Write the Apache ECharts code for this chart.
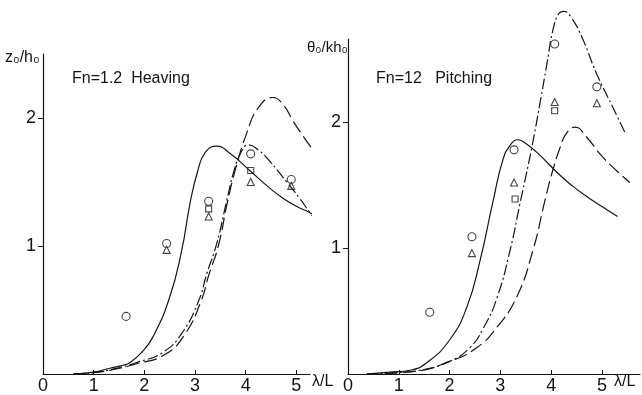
<!DOCTYPE html>
<html><head><meta charset="utf-8">
<script src="https://cdn.jsdelivr.net/npm/echarts@6/dist/echarts.min.js"></script>
<style>html,body{margin:0;padding:0;background:#fff}#c{width:642px;height:395px}</style>
</head><body><div id="c"></div>
<script>
// ---- data ----
const xTicks = [0, 1, 2, 3, 4, 5];
const yTicks = [1, 2];

// Heaving (left panel)
const heaveSolid = [[0.6,0],[1.0,0.015],[1.32,0.045],[1.55,0.065],[1.72,0.09],[1.95,0.17],[2.17,0.29],[2.5,0.6],[2.74,0.97],[2.9,1.33],[3.05,1.58],[3.2,1.73],[3.43,1.78],[3.7,1.72],[4.08,1.59],[4.48,1.45],[4.73,1.375],[5.0,1.31],[5.27,1.26],[5.42,1.22]];
const heaveDashDot = [[0.6,0],[1.0,0.012],[1.4,0.04],[1.85,0.09],[2.37,0.17],[2.76,0.33],[3.08,0.58],[3.23,0.78],[3.43,1.02],[3.63,1.36],[3.78,1.6],[3.92,1.74],[4.05,1.79],[4.25,1.75],[4.48,1.66],[4.81,1.5],[5.07,1.37],[5.27,1.26],[5.42,1.19]];
const heaveDash = [[0.6,0],[1.0,0.01],[1.4,0.035],[1.85,0.08],[2.4,0.15],[2.8,0.31],[3.12,0.57],[3.27,0.77],[3.46,1.0],[3.65,1.36],[3.8,1.6],[4.02,1.88],[4.25,2.08],[4.54,2.16],[4.75,2.1],[4.93,1.98],[5.13,1.86],[5.33,1.75]];
const heaveCircle = [[1.64,0.45],[2.44,1.02],[3.27,1.35],[4.1,1.72],[4.9,1.52]];
const heaveSquare = [[3.27,1.29],[4.1,1.59]];
const heaveTriangle = [[2.44,0.97],[3.27,1.23],[4.1,1.5],[4.9,1.47]];

// Pitching (right panel)
const pitchSolid = [[0.37,0],[0.8,0.015],[1.22,0.03],[1.55,0.09],[2.0,0.27],[2.34,0.53],[2.6,0.9],[2.85,1.36],[3.05,1.7],[3.2,1.82],[3.35,1.86],[3.5,1.83],[3.72,1.76],[4.17,1.58],[4.43,1.49],[4.7,1.41],[5.0,1.33],[5.31,1.25]];
const pitchDashDot = [[0.37,0],[0.9,0.01],[1.42,0.03],[2.0,0.1],[2.4,0.21],[2.66,0.36],[2.93,0.6],[3.19,0.98],[3.39,1.36],[3.62,1.8],[3.78,2.15],[3.92,2.47],[4.04,2.74],[4.15,2.86],[4.25,2.88],[4.38,2.84],[4.6,2.68],[4.9,2.38],[5.2,2.13],[5.45,1.92]];
const pitchDash = [[0.37,0],[1.3,0.02],[2.0,0.1],[2.54,0.21],[2.93,0.37],[3.32,0.61],[3.64,0.98],[3.88,1.38],[4.02,1.6],[4.17,1.79],[4.3,1.91],[4.47,1.96],[4.7,1.88],[5.0,1.73],[5.3,1.61],[5.55,1.52]];
const pitchCircle = [[1.61,0.49],[2.44,1.09],[3.27,1.78],[4.07,2.62],[4.9,2.28]];
const pitchSquare = [[3.29,1.39],[4.07,2.09]];
const pitchTriangle = [[2.44,0.96],[3.27,1.52],[4.07,2.16],[4.9,2.15]];

// ---- chart ----
const ink = '#151515';
const font = 'Liberation Sans';
function xAx(gi, max) {
  return {
    type: 'value', gridIndex: gi, min: 0, max: max, interval: 1,
    axisLine: { lineStyle: { color: ink, width: 1.2 } },
    axisTick: { show: true, inside: true, length: 4, customValues: xTicks, lineStyle: { color: ink } },
    axisLabel: { customValues: xTicks, color: ink, fontSize: 18, fontFamily: font, margin: 3 },
    splitLine: { show: false }
  };
}
function yAx(gi, max) {
  return {
    type: 'value', gridIndex: gi, min: 0, max: max, interval: 1,
    axisLine: { show: true, lineStyle: { color: ink, width: 1.2 } },
    axisTick: { show: true, inside: false, length: 5, customValues: yTicks, lineStyle: { color: ink } },
    axisLabel: { customValues: yTicks, color: ink, fontSize: 18, fontFamily: font, margin: 7 },
    splitLine: { show: false }
  };
}
function line(data, gi, type) {
  return {
    type: 'line', xAxisIndex: gi, yAxisIndex: gi, data: data, smooth: 0.5,
    showSymbol: false, clip: false, silent: true,
    lineStyle: { color: ink, width: 1.2, type: type }
  };
}
function pts(data, gi, sym, size) {
  return {
    type: 'scatter', xAxisIndex: gi, yAxisIndex: gi, data: data, symbol: sym, symbolSize: size,
    clip: false, silent: true,
    itemStyle: { color: '#fff', borderColor: ink, borderWidth: 1.1 }
  };
}
const dashDot = [11, 3, 2, 3];
const longDash = [13, 5];
const chart = echarts.init(document.getElementById('c'), null, { renderer: 'canvas' });
chart.setOption({
  backgroundColor: '#fff',
  animation: false,
  grid: [
    { left: 43, top: 54, width: 267, height: 320 },
    { left: 348, top: 39, width: 292, height: 335 }
  ],
  xAxis: [xAx(0, 5.27), xAx(1, 5.75)],
  yAxis: [yAx(0, 2.5), yAx(1, 2.66)],
  series: [
    line(heaveSolid, 0, 'solid'),
    line(heaveDashDot, 0, dashDot),
    line(heaveDash, 0, longDash),
    pts(heaveCircle, 0, 'circle', 8),
    pts(heaveSquare, 0, 'rect', 6),
    pts(heaveTriangle, 0, 'triangle', 7),
    line(pitchSolid, 1, 'solid'),
    line(pitchDashDot, 1, dashDot),
    line(pitchDash, 1, longDash),
    pts(pitchCircle, 1, 'circle', 8),
    pts(pitchSquare, 1, 'rect', 6),
    pts(pitchTriangle, 1, 'triangle', 7)
  ],
  graphic: [
    { type: 'text', left: 5, top: 50, style: { text: 'z₀/h₀', fontSize: 16, fontFamily: font, fill: ink } },
    { type: 'text', left: 307, top: 40, style: { text: 'θ₀/kh₀', fontSize: 15, fontFamily: font, fill: ink } },
    { type: 'text', left: 72, top: 71, style: { text: 'Fn=1.2  Heaving', fontSize: 16, fontFamily: font, fill: ink } },
    { type: 'text', left: 376, top: 71, style: { text: 'Fn=12   Pitching', fontSize: 16, fontFamily: font, fill: ink } },
    { type: 'text', left: 312, top: 374, style: { text: 'λ/L', fontSize: 16, fontFamily: font, fill: ink } },
    { type: 'text', left: 614, top: 374, style: { text: 'λ/L', fontSize: 16, fontFamily: font, fill: ink } }
  ]
});
</script>
</body></html>
